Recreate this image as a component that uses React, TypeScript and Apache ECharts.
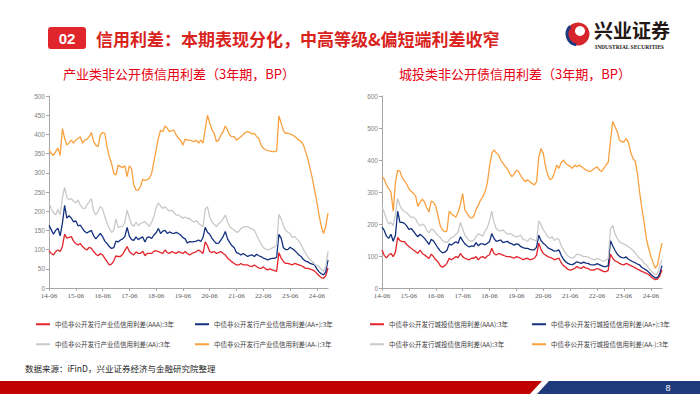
import React, { useEffect, useRef } from "react";
import * as echarts from "echarts";

// Monthly categories 2014-06 .. 2024-11 (labels shown every 12 months: YY-06)
const months: string[] = [];
{
  let y = 2014;
  let m = 6;
  while (months.length < 126) {
    months.push(`${String(y % 100).padStart(2, "0")}-${String(m).padStart(2, "0")}`);
    m++;
    if (m > 12) { m = 1; y++; }
  }
}

const indNames = [
  "中债非公开发行产业债信用利差(AAA):3年",
  "中债非公开发行产业债信用利差(AA+):3年",
  "中债非公开发行产业债信用利差(AA):3年",
  "中债非公开发行产业债信用利差(AA-):3年",
];
const cityNames = [
  "中债非公开发行城投债信用利差(AAA):3年",
  "中债非公开发行城投债信用利差(AA+):3年",
  "中债非公开发行城投债信用利差(AA):3年",
  "中债非公开发行城投债信用利差(AA-):3年",
];

const indAAA = [97,90,86,95,99,95,108,140,130,132,
134,122,116,112,116,108,103,99,106,103,
95,88,84,90,86,77,69,60,62,70,
84,82,82,88,98,108,95,90,86,94,
90,90,96,84,90,90,90,96,97,95,
92,90,99,92,90,95,92,90,95,92,
90,95,90,86,90,92,95,99,95,90,
120,110,95,92,95,90,92,95,90,86,
78,73,68,64,60,60,64,60,60,60,
57,56,60,56,52,51,55,50,47,50,
47,45,43,92,78,69,64,64,62,60,
64,62,60,58,55,51,51,49,47,44,
38,32,27,25,32,52];

const indAAp = [163,152,140,150,156,136,168,215,182,188,
182,172,175,162,164,155,147,143,147,150,
136,128,135,142,134,122,116,108,103,105,
122,120,125,128,134,158,135,126,124,133,
126,130,133,120,132,133,129,138,144,155,
142,148,150,142,146,143,142,145,142,138,
131,128,117,121,120,121,122,125,121,132,
158,145,140,130,122,116,117,125,134,147,
128,118,110,105,92,90,86,90,86,82,
85,86,82,88,84,82,78,76,73,76,
77,77,80,140,130,105,100,100,106,102,
98,92,86,82,74,70,68,64,62,60,
50,42,37,34,42,73];

const indAA = [222,207,196,190,205,190,235,262,236,230,
233,226,222,229,216,208,207,216,225,233,
200,190,200,212,206,186,170,155,145,150,
180,158,160,160,172,203,182,166,160,172,
162,168,170,173,166,160,172,186,210,222,
213,207,212,205,200,203,196,190,190,186,
182,185,181,181,175,172,176,168,164,160,
205,212,185,172,166,160,168,172,180,190,
172,160,155,151,145,147,155,158,160,160,
156,154,150,138,125,116,105,102,99,101,
104,107,112,192,180,162,150,146,142,132,
134,128,122,112,100,90,80,74,69,62,
58,56,48,43,55,95];

const indAAm = [360,350,345,355,365,345,415,390,372,378,
385,377,385,390,394,377,385,387,394,405,
381,372,368,398,405,403,368,342,325,299,
294,320,316,314,318,290,318,310,268,255,
255,265,283,280,282,286,299,329,359,390,
411,407,422,416,407,410,411,398,390,385,
372,388,385,385,383,381,385,377,385,377,
415,450,430,412,403,381,385,398,407,422,
411,398,394,394,385,390,394,400,405,407,
405,401,403,394,390,372,364,360,358,357,
355,355,357,448,430,410,403,403,401,399,
395,390,385,381,372,355,335,310,285,255,
225,190,160,142,160,195];

const cityAAA = [119,102,94,103,108,98,112,158,148,145,
145,136,130,124,119,114,108,118,108,103,
98,92,106,98,88,82,70,65,70,77,
93,88,93,98,95,108,98,93,90,88,
93,93,98,88,96,98,93,100,104,124,
108,103,108,106,103,100,98,98,96,93,
98,96,93,88,92,93,88,90,93,103,
140,120,108,103,98,96,93,88,91,93,
79,70,65,58,56,58,61,67,63,61,
67,62,61,56,56,57,61,58,55,51,
51,55,106,93,85,82,77,74,72,77,
74,70,67,63,59,56,52,49,46,42,
36,30,26,28,38,56];

const cityAAp = [190,180,162,155,168,146,165,240,205,205,
202,194,183,186,178,168,160,168,162,155,
146,136,152,147,136,125,116,110,112,118,
138,134,140,144,140,160,148,138,132,128,
132,130,142,132,138,138,135,140,145,170,
155,146,148,150,142,144,146,140,138,134,
138,136,129,126,124,124,121,119,119,128,
165,148,140,134,126,122,119,115,116,119,
102,90,82,77,74,73,77,82,79,77,
81,78,77,73,72,72,76,73,70,67,
67,70,148,132,118,106,99,95,94,97,
90,86,82,79,75,72,64,60,56,50,
43,37,32,32,45,70];

const cityAA = [254,236,215,200,205,195,230,280,258,245,
239,235,228,220,222,216,202,194,200,195,
180,172,185,182,172,164,158,148,144,142,
150,158,160,168,175,205,185,165,155,148,
145,150,160,170,166,162,178,188,210,240,
205,185,180,178,182,174,168,170,168,162,
160,162,165,152,150,146,156,152,150,146,
210,198,182,172,160,156,160,148,155,152,
132,120,108,100,95,93,98,106,104,102,
98,98,97,93,90,88,92,90,86,83,
87,92,185,195,170,155,145,140,137,134,
129,124,118,110,100,93,88,78,72,62,
54,48,42,45,70,88];

const cityAAm = [348,340,322,311,300,240,330,368,365,345,
335,325,310,302,296,288,255,268,278,268,
250,238,272,268,256,225,195,182,176,178,
240,232,226,222,236,262,295,244,233,222,
218,225,245,259,275,285,301,327,379,420,
432,422,416,400,390,380,372,358,348,356,
368,364,350,340,333,338,332,327,322,332,
410,436,421,380,353,338,343,360,384,374,
392,400,390,384,380,374,384,379,384,379,
374,369,366,364,369,374,379,369,364,374,
384,393,460,520,505,489,463,457,457,467,
455,426,405,397,360,300,250,205,155,125,
100,80,62,72,108,140];

const colors = ["#E3242B", "#13307F", "#C9C9C9", "#F9A03F"];
const indData = [indAAA, indAAp, indAA, indAAm];
const cityData = [cityAAA, cityAAp, cityAA, cityAAm];

const CJK = '"Noto Sans CJK SC", sans-serif';

function makeX(gridIndex: number) {
  return {
    type: "category",
    gridIndex,
    data: months,
    boundaryGap: false,
    axisLine: { show: true, lineStyle: { color: "#A6A6A6", width: 1 } },
    axisTick: { show: true, interval: 11, length: 3, lineStyle: { color: "#A6A6A6" } },
    axisLabel: { interval: 11, fontSize: 7, fontFamily: '"Liberation Serif", serif', color: "#595959", margin: 4 },
    splitLine: { show: false },
  };
}

function makeY(gridIndex: number, max: number, interval: number) {
  return {
    type: "value",
    gridIndex,
    min: 0,
    max,
    interval,
    axisLine: { show: true, lineStyle: { color: "#A6A6A6", width: 1 } },
    axisTick: { show: true, length: 3, lineStyle: { color: "#A6A6A6" } },
    axisLabel: { fontSize: 6.5, fontFamily: '"Liberation Sans", sans-serif', color: "#7F7F7F", margin: 4 },
    splitLine: { show: false },
  };
}

function makeLegend(name: string, left: number, top: number) {
  return {
    data: [name],
    left,
    top,
    padding: 0,
    icon: "rect",
    itemWidth: 14,
    itemHeight: 2,
    textStyle: { fontSize: 6.5, color: "#404040", fontFamily: CJK },
  };
}

export default function App() {
  const ref = useRef<HTMLDivElement>(null);
  useEffect(() => {
    if (!ref.current) return;
    const chart = echarts.init(ref.current, null, { renderer: "svg" });
    const series: any[] = [];
    for (let i = 0; i < 4; i++) {
      series.push({
        name: indNames[i], type: "line", xAxisIndex: 0, yAxisIndex: 0,
        data: indData[i], showSymbol: false, symbol: "none",
        lineStyle: { width: 1.3, color: colors[i] }, itemStyle: { color: colors[i] },
      });
    }
    for (let i = 0; i < 4; i++) {
      series.push({
        name: cityNames[i], type: "line", xAxisIndex: 1, yAxisIndex: 1,
        data: cityData[i], showSymbol: false, symbol: "none",
        lineStyle: { width: 1.3, color: colors[i] }, itemStyle: { color: colors[i] },
      });
    }
    const option: any = {
      animation: false,
      backgroundColor: "#FFFFFF",
      grid: [
        { left: 49, top: 96, width: 279, height: 192 },
        { left: 382, top: 96, width: 280, height: 192 },
      ],
      xAxis: [makeX(0), makeX(1)],
      yAxis: [makeY(0, 500, 50), makeY(1, 600, 100)],
      legend: [
        makeLegend(indNames[0], 36, 321),
        makeLegend(indNames[1], 195, 321),
        makeLegend(indNames[2], 36, 341),
        makeLegend(indNames[3], 195, 341),
        makeLegend(cityNames[0], 370, 321),
        makeLegend(cityNames[1], 532, 321),
        makeLegend(cityNames[2], 370, 341),
        makeLegend(cityNames[3], 532, 341),
      ],
      series,
      graphic: [
        { type: "rect", shape: { x: 48, y: 27, width: 38, height: 22, r: 3 }, style: { fill: "#E0262C" } },
        { type: "text", x: 67, y: 38, style: { text: "02", fill: "#FFFFFF", font: 'bold 15px "Liberation Sans", sans-serif', textAlign: "center", textVerticalAlign: "middle", align: "center", verticalAlign: "middle" } },
        { type: "text", x: 96, y: 38, style: { text: "信用利差：本期表现分化，中高等级&偏短端利差收窄", fill: "#D9231D", font: `bold 17px ${CJK}`, textAlign: "left", textVerticalAlign: "middle", align: "left", verticalAlign: "middle" } },
        // logo
        { type: "circle", shape: { cx: 578, cy: 34, r: 11.5 }, style: { fill: "#D7262B" } },
        { type: "circle", shape: { cx: 580, cy: 31, r: 5 }, style: { fill: "#FFFFFF" } },
        { type: "arc", shape: { cx: 578, cy: 34, r: 11, startAngle: Math.PI * 0.55, endAngle: Math.PI * 1.25 }, style: { stroke: "#1B3A80", lineWidth: 3, fill: "none" } },
        { type: "text", x: 594, y: 29, style: { text: "兴业证券", fill: "#231815", font: `bold 19px ${CJK}`, textAlign: "left", textVerticalAlign: "middle", align: "left", verticalAlign: "middle" } },
        { type: "text", x: 595, y: 47, style: { text: "INDUSTRIAL SECURITIES", fill: "#231815", font: 'bold 5.5px "Liberation Serif", serif', textAlign: "left", textVerticalAlign: "middle", align: "left", verticalAlign: "middle" } },
        // chart titles
        { type: "text", x: 179, y: 73, style: { text: "产业类非公开债信用利差（3年期，BP）", fill: "#E60012", font: `13px ${CJK}`, textAlign: "center", textVerticalAlign: "middle", align: "center", verticalAlign: "middle" } },
        { type: "text", x: 515, y: 73, style: { text: "城投类非公开债信用利差（3年期，BP）", fill: "#E60012", font: `13px ${CJK}`, textAlign: "center", textVerticalAlign: "middle", align: "center", verticalAlign: "middle" } },
        // source
        { type: "text", x: 25, y: 368, style: { text: "数据来源：iFinD，兴业证券经济与金融研究院整理", fill: "#262626", font: `8.5px ${CJK}`, textAlign: "left", textVerticalAlign: "middle", align: "left", verticalAlign: "middle" } },
        // bottom bars
        { type: "polygon", shape: { points: [[0, 381], [542, 381], [530, 394], [0, 394]] }, style: { fill: "#C00000" } },
        { type: "polygon", shape: { points: [[549, 381], [700, 381], [700, 394], [537, 394]] }, style: { fill: "#1F3A7C" } },
        { type: "text", x: 668, y: 388, style: { text: "8", fill: "#FFFFFF", font: '9px "Liberation Sans", sans-serif', textAlign: "center", textVerticalAlign: "middle", align: "center", verticalAlign: "middle" } },
      ],
    };
    chart.setOption(option);
    return () => chart.dispose();
  }, []);
  return (
    <div
      ref={ref}
      style={{ position: "fixed", left: 0, top: 0, width: 700, height: 394, background: "#FFFFFF" }}
    />
  );
}
